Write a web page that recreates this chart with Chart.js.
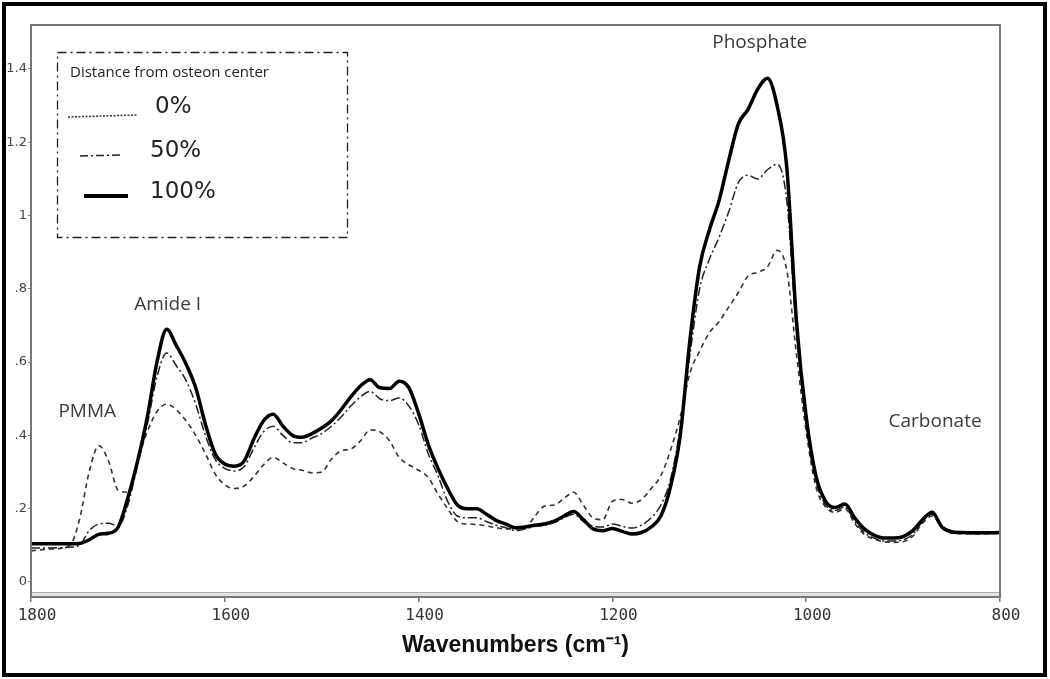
<!DOCTYPE html>
<html>
<head>
<meta charset="utf-8">
<script src="https://cdn.jsdelivr.net/npm/chart.js@4/dist/chart.umd.min.js"></script>
<style>
  html, body { margin: 0; padding: 0; background: #fff; }
  #wrap { width: 1050px; height: 679px; position: relative; }
</style>
</head>
<body>
<div id="wrap"><canvas id="grafico"></canvas></div>
<script>
// wavenumbers (cm-1) shared by all three spectra
const wavenumbers = [
  1800, 1780, 1760, 1750, 1740, 1730, 1720, 1710, 1700, 1690,
  1680, 1670, 1660, 1650, 1640, 1630, 1620, 1610, 1600, 1590,
  1580, 1570, 1560, 1550, 1540, 1530, 1520, 1510, 1500, 1490,
  1480, 1470, 1460, 1450, 1440, 1430, 1420, 1410, 1400, 1390,
  1380, 1370, 1360, 1350, 1340, 1330, 1320, 1310, 1300, 1290,
  1280, 1270, 1260, 1250, 1240, 1230, 1220, 1210, 1200, 1190,
  1180, 1170, 1160, 1150, 1140, 1130, 1120, 1110, 1100, 1090,
  1080, 1070, 1060, 1050, 1040, 1030, 1020, 1010, 1000, 990,
  980, 970, 960, 950, 940, 930, 920, 910, 900, 890,
  880, 870, 860, 850, 840, 820, 800
];

// absorbance, 0% from osteon center
const abs0 = [
  0.085, 0.09, 0.10, 0.17, 0.30, 0.372, 0.33, 0.25, 0.245, 0.33,
  0.41, 0.465, 0.485, 0.47, 0.44, 0.40, 0.35, 0.295, 0.265, 0.255,
  0.262, 0.288, 0.32, 0.34, 0.325, 0.31, 0.305, 0.298, 0.30, 0.335,
  0.358, 0.363, 0.385, 0.415, 0.41, 0.385, 0.34, 0.32, 0.305, 0.285,
  0.24, 0.20, 0.165, 0.158, 0.157, 0.153, 0.148, 0.145, 0.145, 0.147,
  0.18, 0.207, 0.21, 0.228, 0.245, 0.21, 0.175, 0.17, 0.22, 0.225,
  0.215, 0.225, 0.255, 0.29, 0.36, 0.45, 0.57, 0.63, 0.68, 0.71,
  0.75, 0.79, 0.835, 0.845, 0.86, 0.905, 0.85, 0.62, 0.41, 0.26,
  0.205, 0.19, 0.20, 0.16, 0.13, 0.117, 0.11, 0.108, 0.11, 0.125,
  0.16, 0.18, 0.148, 0.133, 0.132, 0.131, 0.133
];

// absorbance, 50%
const abs50 = [
  0.093, 0.093, 0.095, 0.10, 0.14, 0.158, 0.16, 0.153, 0.21, 0.32,
  0.43, 0.56, 0.625, 0.59, 0.55, 0.485, 0.40, 0.335, 0.31, 0.303,
  0.315, 0.365, 0.41, 0.425, 0.40, 0.38, 0.38, 0.393, 0.405, 0.425,
  0.45, 0.48, 0.505, 0.52, 0.50, 0.495, 0.502, 0.48, 0.43, 0.35,
  0.29, 0.22, 0.18, 0.175, 0.175, 0.165, 0.155, 0.148, 0.14, 0.145,
  0.152, 0.155, 0.162, 0.175, 0.185, 0.165, 0.152, 0.15, 0.158, 0.152,
  0.147, 0.155, 0.175, 0.21, 0.28, 0.42, 0.62, 0.80, 0.88, 0.94,
  1.01, 1.09, 1.11, 1.10, 1.125, 1.14, 1.04, 0.68, 0.43, 0.275,
  0.21, 0.195, 0.205, 0.165, 0.135, 0.12, 0.112, 0.112, 0.115, 0.13,
  0.165, 0.185, 0.15, 0.135, 0.133, 0.132, 0.134
];

// absorbance, 100%
const abs100 = [
  0.104, 0.104, 0.104, 0.105, 0.115, 0.13, 0.133, 0.15, 0.23, 0.33,
  0.45, 0.60, 0.69, 0.645, 0.595, 0.53, 0.43, 0.35, 0.322, 0.316,
  0.33, 0.39, 0.44, 0.458, 0.425, 0.40, 0.395, 0.405, 0.42, 0.44,
  0.47, 0.505, 0.535, 0.552, 0.53, 0.528, 0.548, 0.53, 0.46, 0.375,
  0.31, 0.255, 0.21, 0.20, 0.20, 0.185, 0.168, 0.158, 0.148, 0.15,
  0.155, 0.158, 0.166, 0.18, 0.192, 0.17, 0.145, 0.14, 0.146, 0.138,
  0.131, 0.135, 0.15, 0.18, 0.26, 0.40, 0.66, 0.86, 0.96, 1.04,
  1.15, 1.25, 1.29, 1.345, 1.375, 1.30, 1.13, 0.71, 0.45, 0.29,
  0.22, 0.203, 0.213, 0.175, 0.145, 0.128, 0.12, 0.12, 0.124, 0.14,
  0.17, 0.19, 0.15, 0.137, 0.135, 0.134, 0.135
];

const seriesNames = ["0%", "50%", "100%"];
const xTicks = [1800, 1600, 1400, 1200, 1000, 800];
const yTicks = [0, 0.2, 0.4, 0.6, 0.8, 1, 1.2, 1.4];

// band labels: text, wavenumber, absorbance
const bandNames = ["PMMA", "Amide I", "Phosphate", "Carbonate"];
const bandWn = [1742, 1659, 1048, 867];
const bandAbs = [0.45, 0.742, 1.457, 0.423];

function pts(vals) {
    return wavenumbers.map((w, i) => ({ x: w, y: vals[i] }));
}

function yLabel(v) {
    const r = Number(v.toFixed(1));
    if (r === 0) return "0";
    if (r < 1) return String(r).replace("0.", ".");
    return String(r);
}

// frame, legend box and band names
const decor = {
    id: "decor",
    afterDraw(chart) {
        const ctx = chart.ctx;
        const a = chart.chartArea;
        const x = chart.scales.x;
        const y = chart.scales.y;
        ctx.save();

        // bottom double line
        ctx.fillStyle = "#e4e4e4";
        ctx.fillRect(a.left, a.bottom - 4, a.right - a.left, 4);
        ctx.strokeStyle = "#aaa";
        ctx.lineWidth = 1;
        ctx.beginPath();
        ctx.moveTo(a.left, a.bottom - 4.5);
        ctx.lineTo(a.right, a.bottom - 4.5);
        ctx.stroke();

        // plot box
        ctx.strokeStyle = "#777";
        ctx.lineWidth = 2;
        ctx.strokeRect(a.left, a.top, a.right - a.left, a.bottom - a.top);

        // outer frame
        ctx.strokeStyle = "#000";
        ctx.lineWidth = 4;
        ctx.strokeRect(4, 4, 1041, 671);

        // band names
        ctx.fillStyle = "#3a3a3a";
        ctx.font = "19px 'Open Sans'";
        ctx.textAlign = "center";
        ctx.textBaseline = "alphabetic";
        bandNames.forEach((t, i) => {
            ctx.fillText(t, x.getPixelForValue(bandWn[i]), y.getPixelForValue(bandAbs[i]));
        });

        // legend
        ctx.strokeStyle = "#222";
        ctx.lineWidth = 1.3;
        ctx.setLineDash([9, 4, 2, 4]);
        ctx.strokeRect(57.5, 52.5, 290, 185);

        ctx.textAlign = "left";
        ctx.fillStyle = "#222";
        ctx.font = "15px 'Open Sans'";
        ctx.fillText("Distance from osteon center", 70, 77);

        ctx.strokeStyle = "#333";
        ctx.lineWidth = 1.5;
        ctx.setLineDash([2, 1.5]);
        ctx.beginPath();
        ctx.moveTo(68, 117);
        ctx.lineTo(138, 115);
        ctx.stroke();

        ctx.strokeStyle = "#222";
        ctx.setLineDash([8, 3, 2, 3]);
        ctx.beginPath();
        ctx.moveTo(80, 156);
        ctx.lineTo(120, 155);
        ctx.stroke();

        ctx.strokeStyle = "#000";
        ctx.lineWidth = 4;
        ctx.setLineDash([]);
        ctx.beginPath();
        ctx.moveTo(84, 196);
        ctx.lineTo(128, 196);
        ctx.stroke();

        ctx.font = "23px 'DejaVu Sans'";
        ctx.fillText(seriesNames[0], 155, 113);
        ctx.fillText(seriesNames[1], 150, 157);
        ctx.fillText(seriesNames[2], 150, 198);

        ctx.restore();
    },
};

const graficoCanvas = document.getElementById("grafico");

const data = {
    datasets: [
        {
            label: seriesNames[0],
            data: pts(abs0),
            borderColor: "#333",
            borderWidth: 1.6,
            borderDash: [5, 4],
            order: 2,
        },
        {
            label: seriesNames[1],
            data: pts(abs50),
            borderColor: "#222",
            borderWidth: 1.5,
            borderDash: [9, 3, 2, 3],
            order: 1,
        },
        {
            label: seriesNames[2],
            data: pts(abs100),
            borderColor: "#000",
            borderWidth: 3.5,
            order: 0,
        },
    ],
};

const config = {
    type: "line",
    data: data,
    plugins: [decor],
    options: {
        responsive: true,
        maintainAspectRatio: false,
        animation: false,
        devicePixelRatio: 1,
        layout: { padding: { left: 0, top: 25, right: 50, bottom: 0 } },
        elements: {
            point: { radius: 0 },
            line: { cubicInterpolationMode: "monotone", fill: false },
        },
        plugins: {
            legend: { display: false },
            tooltip: { enabled: false },
        },
        scales: {
            x: {
                type: "linear",
                reverse: true,
                min: 800,
                max: 1800,
                afterBuildTicks: (s) => { s.ticks = xTicks.map((v) => ({ value: v })); },
                afterFit: (s) => { s.height = 82; s.paddingLeft = 0; s.paddingRight = 0; },
                grid: { drawOnChartArea: false, drawTicks: true, tickLength: 5, color: "#777", lineWidth: 1.5 },
                border: { display: false },
                ticks: {
                    color: "#333",
                    font: { family: "DejaVu Sans Mono", size: 16 },
                    padding: 4,
                    labelOffset: 6,
                    maxRotation: 0,
                    autoSkip: false,
                    callback: (v) => String(v),
                },
                title: {
                    display: true,
                    text: "Wavenumbers (cm\u207B\u00B9)",
                    color: "#111",
                    font: { family: "Liberation Sans", size: 23, weight: "bold" },
                    padding: { top: 0, bottom: 20 },
                },
            },
            y: {
                min: -0.041,
                max: 1.52,
                afterBuildTicks: (s) => { s.ticks = yTicks.map((v) => ({ value: v })); },
                afterFit: (s) => { s.width = 31; },
                grid: { drawOnChartArea: false, drawTicks: true, tickLength: 3, color: "#888" },
                border: { display: false },
                ticks: {
                    color: "#444",
                    font: { family: "DejaVu Sans", size: 13 },
                    padding: 1,
                    callback: yLabel,
                },
            },
        },
    },
};

new Chart(graficoCanvas, config);
</script>
</body>
</html>
